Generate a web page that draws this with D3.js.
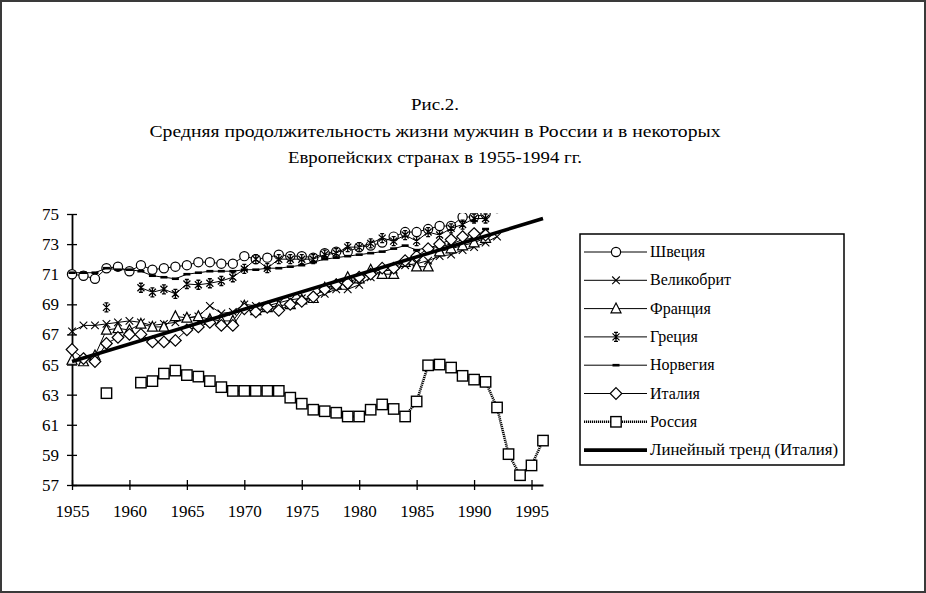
<!DOCTYPE html>
<html><head><meta charset="utf-8">
<script src="https://cdn.jsdelivr.net/npm/d3@7"></script>
<style>body{margin:0;background:#fff}svg{display:block}text{font-family:"Liberation Serif","Times New Roman",serif;fill:#000}</style>
</head><body>
<svg id="c" width="926" height="593"></svg>
<script>
const years = [1955,1956,1957,1958,1959,1960,1961,1962,1963,1964,1965,1966,1967,1968,1969,1970,1971,1972,1973,1974,1975,1976,1977,1978,1979,1980,1981,1982,1983,1984,1985,1986,1987,1988,1989,1990,1991,1992,1993,1994,1995,1996];
const sweden = [71.0,70.9,70.7,71.4,71.5,71.2,71.6,71.3,71.4,71.5,71.6,71.8,71.8,71.7,71.7,72.2,72.0,72.1,72.3,72.2,72.2,72.1,72.4,72.5,72.5,72.8,72.9,73.1,73.5,73.8,73.8,74.0,74.2,74.2,74.8,74.8,75.0,75.4,null,null,null,null];
const uk = [67.2,67.6,67.6,67.7,67.8,67.9,67.8,67.6,67.7,67.8,68.1,68.2,68.9,68.4,68.5,69.0,68.9,68.9,69.1,69.3,69.4,69.4,69.7,70.0,70.0,70.3,70.8,71.2,71.3,71.6,71.7,71.9,72.2,72.3,72.6,72.8,73.1,73.5,null,null,null,null];
const france = [65.3,65.2,65.6,67.3,67.4,67.3,67.7,67.5,67.5,68.2,68.1,68.2,68.0,67.9,67.9,68.9,68.6,68.8,68.9,69.0,69.3,69.4,70.1,70.3,70.8,70.7,71.3,71.0,71.0,71.8,71.5,71.5,72.5,72.7,72.9,73.1,73.4,null,null,null,null,null];
const greece = [null,null,null,68.8,null,null,70.1,69.8,70.0,69.7,70.35,70.3,70.4,70.55,70.8,71.35,72.0,71.4,72.0,72.0,72.0,72.0,72.3,72.4,72.8,72.8,73.05,73.4,73.2,73.6,73.2,73.8,73.6,74.05,74.3,74.7,74.7,null,null,null,null,null];
const norway = [71.1,71.1,71.1,71.4,71.3,71.3,71.2,70.9,70.8,70.7,71.0,71.1,71.2,71.2,71.2,71.3,71.3,71.4,71.4,71.5,71.6,71.8,72.0,72.1,72.2,72.3,72.4,72.5,72.7,72.9,72.6,72.8,72.8,73.0,73.3,73.4,74.0,null,null,null,null,null];
const italy = [66.0,65.4,65.2,66.4,66.8,67.0,67.0,66.5,66.5,66.6,67.3,67.5,67.8,67.6,67.6,68.7,68.5,68.8,68.6,69.0,69.2,69.5,70.0,70.3,70.4,70.8,71.0,71.4,71.4,71.9,72.2,72.7,73.0,73.3,73.5,73.7,73.6,null,null,null,null,null];
const russia = [null,null,null,63.1,null,null,63.8,63.9,64.4,64.6,64.3,64.2,63.9,63.5,63.25,63.25,63.25,63.25,63.25,62.8,62.4,62.0,61.9,61.8,61.55,61.55,62.0,62.35,62.05,61.55,62.55,64.95,65.0,64.8,64.25,64.0,63.85,62.15,59.05,57.65,58.3,59.95];
const trendYears = [1955, 1996];
const trendValues = [65.2, 74.7];
const seriesNames = ["Швеция","Великобрит","Франция","Греция","Норвегия","Италия","Россия"];
const trendName = "Линейный тренд (Италия)";
const xTicks = [1955,1960,1965,1970,1975,1980,1985,1990,1995];
const yTicks = [57,59,61,63,65,67,69,71,73,75];
const titleLines = ["Рис.2.","Средняя продолжительность жизни мужчин в России и в некоторых","Европейских странах в 1955-1994 гг."];

const svg = d3.select("#c");
svg.append("rect").attr("x",1).attr("y",1).attr("width",924).attr("height",591).attr("fill","#fff").attr("stroke","#3a3a3a").attr("stroke-width",2);

const x = d3.scaleLinear().domain([1955,1996]).range([72,543]);
const y = d3.scaleLinear().domain([57,75]).range([485,214]);

// title
const tl = [{w:48,y:110},{w:571,y:137},{w:294,y:163}];
titleLines.forEach((t,i)=>{
  svg.append("text").attr("x",435).attr("y",tl[i].y).attr("text-anchor","middle")
    .attr("font-size",17).attr("textLength",tl[i].w).attr("lengthAdjust","spacingAndGlyphs").text(t);
});

// axes
const gx = svg.append("g").attr("transform","translate(0,485)")
  .call(d3.axisBottom(x).tickValues(xTicks).tickFormat(d3.format("d")).tickSizeInner(5).tickSizeOuter(0).tickPadding(15));
gx.selectAll(".tick line").attr("y1",-5).attr("y2",5).attr("stroke","#000").attr("stroke-width",1.3);
gx.select(".domain").attr("stroke","#000").attr("stroke-width",1.8);
gx.selectAll("text").attr("font-size",17).attr("font-family","Liberation Serif").attr("fill","#000");

const gy = svg.append("g").attr("transform","translate(72,0)")
  .call(d3.axisLeft(y).tickValues(yTicks).tickSizeInner(5).tickSizeOuter(0).tickPadding(8));
gy.selectAll(".tick line").attr("x1",-5).attr("x2",5).attr("stroke","#000").attr("stroke-width",1.3);
gy.select(".domain").attr("stroke","#000").attr("stroke-width",1.8);
gy.selectAll("text").attr("font-size",17).attr("font-family","Liberation Serif").attr("fill","#000");

// clip
svg.append("clipPath").attr("id","pc").append("rect").attr("x",60).attr("y",213).attr("width",500).attr("height",290);
const plot = svg.append("g").attr("clip-path","url(#pc)");

// marker drawers
const markers = {
  circle: g => g.append("circle").attr("r",4.6).attr("fill","#fff").attr("stroke","#000").attr("stroke-width",1.2),
  cross: g => g.append("path").attr("d","M-3.8,-3.8L3.8,3.8M-3.8,3.8L3.8,-3.8").attr("stroke","#000").attr("stroke-width",1.1).attr("fill","none"),
  triangle: g => g.append("path").attr("d","M0,-5.5L5,4.2L-5,4.2Z").attr("fill","#fff").attr("stroke","#000").attr("stroke-width",1.2),
  star: g => g.append("path").attr("d","M-3.5,-3.5L3.5,3.5M-3.5,3.5L3.5,-3.5M0,-4.5L0,4.5M-2,-4.5L2,-4.5M-2,4.5L2,4.5").attr("stroke","#000").attr("stroke-width",1.3).attr("fill","none"),
  dash: g => g.append("rect").attr("x",-3.5).attr("y",-1.3).attr("width",7).attr("height",2.6).attr("fill","#000"),
  diamond: g => g.append("path").attr("d","M0,-5.8L5.8,0L0,5.8L-5.8,0Z").attr("fill","#fff").attr("stroke","#000").attr("stroke-width",1.2),
  square: g => g.append("rect").attr("x",-5.2).attr("y",-5.2).attr("width",10.4).attr("height",10.4).attr("fill","#fff").attr("stroke","#000").attr("stroke-width",1.4)
};
const seriesVals = [sweden, uk, france, greece, norway, italy, russia];
const seriesMarker = ["circle","cross","triangle","star","dash","diamond","square"];

const line = d3.line().defined(d=>d.v!=null).x(d=>x(d.yr)).y(d=>y(d.v));

seriesVals.forEach((vals,i)=>{
  const data = years.map((yr,j)=>({yr, v: vals[j]}));
  const isR = seriesMarker[i]==="square";
  plot.append("path").datum(data).attr("d",line).attr("fill","none").attr("stroke","#000")
    .attr("stroke-width", isR?2.6:1).attr("stroke-dasharray", isR?"1.2,0.8":null);
  data.filter(d=>d.v!=null).forEach(d=>{
    const g = plot.append("g").attr("transform",`translate(${x(d.yr)},${y(d.v)})`);
    markers[seriesMarker[i]](g);
  });
});

// trend
const tdata = trendYears.map((yr,j)=>({yr, v: trendValues[j]}));
plot.append("path").datum(tdata).attr("d",line).attr("fill","none").attr("stroke","#000").attr("stroke-width",3.6);

// legend
const lg = svg.append("g");
lg.append("rect").attr("x",580).attr("y",234).attr("width",264).attr("height",231).attr("fill","#fff").attr("stroke","#000").attr("stroke-width",1.5);
const rowY = i => 252 + i*28.3;
seriesNames.forEach((name,i)=>{
  const yy = rowY(i);
  const isR = seriesMarker[i]==="square";
  lg.append("line").attr("x1",584).attr("x2",647).attr("y1",yy).attr("y2",yy).attr("stroke","#000")
    .attr("stroke-width",isR?2.6:1).attr("stroke-dasharray",isR?"1.2,0.8":null);
  const g = lg.append("g").attr("transform",`translate(616,${yy})`);
  markers[seriesMarker[i]](g);
  lg.append("text").attr("x",650).attr("y",yy+5).attr("font-size",16).text(name);
});
const ty = rowY(7);
lg.append("line").attr("x1",584).attr("x2",647).attr("y1",ty).attr("y2",ty).attr("stroke","#000").attr("stroke-width",3.6);
lg.append("text").attr("x",650).attr("y",ty+5).attr("font-size",16).attr("textLength",188).attr("lengthAdjust","spacingAndGlyphs").text(trendName);
</script>
</body></html>
